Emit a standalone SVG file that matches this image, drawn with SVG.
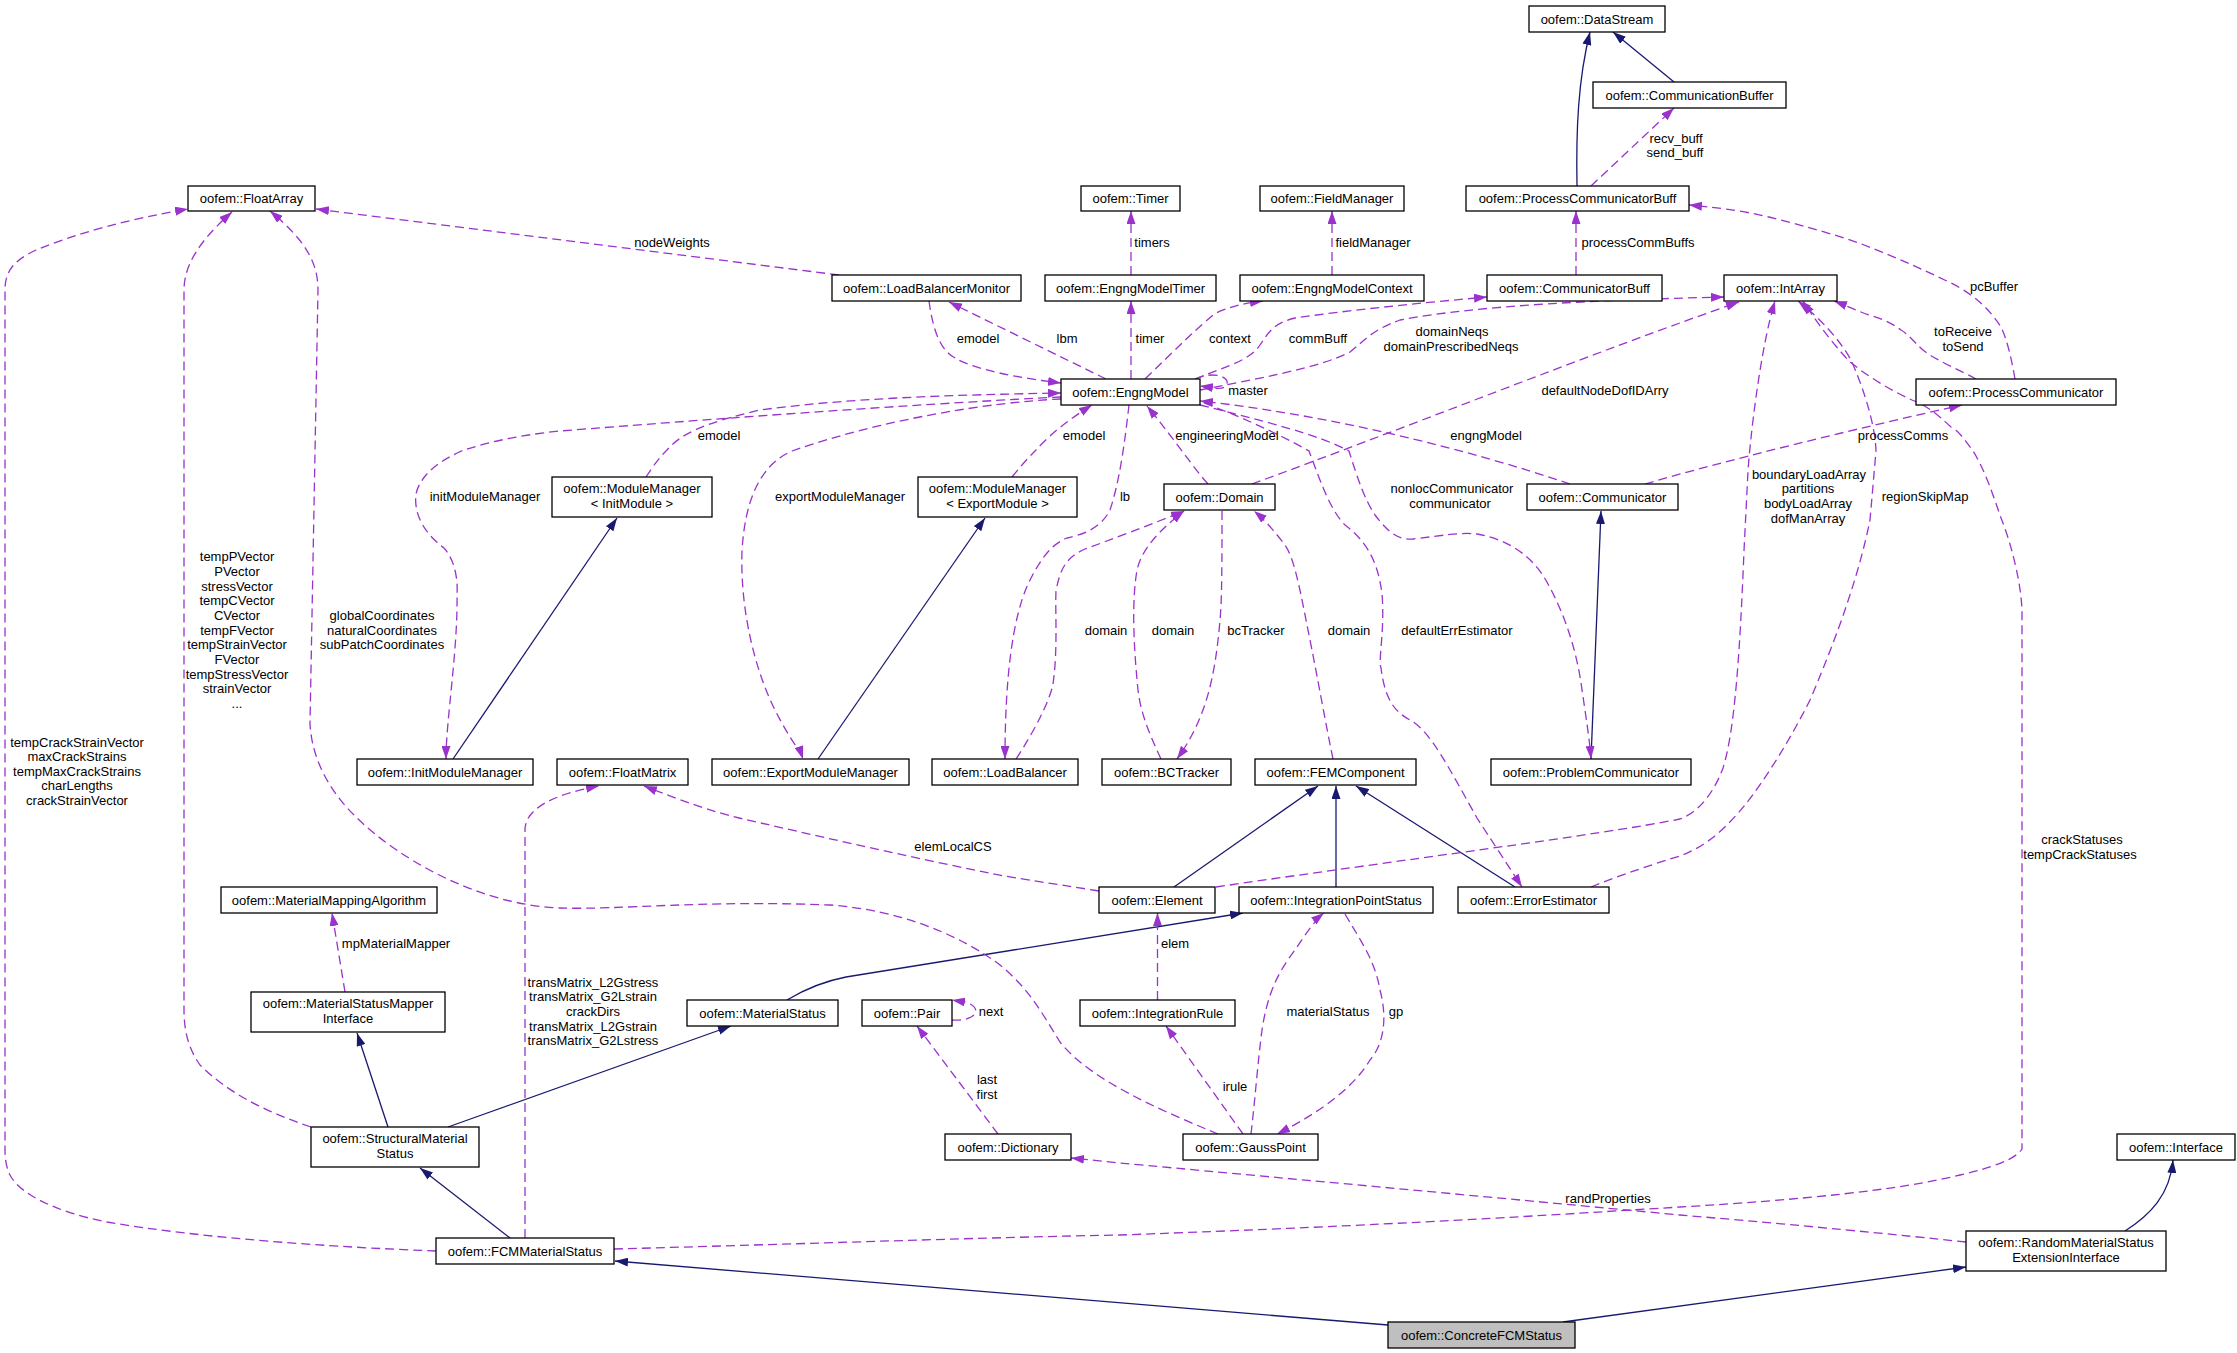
<svg xmlns="http://www.w3.org/2000/svg" width="2237" height="1353" viewBox="0 0 2237 1353">
<style>
.n rect{fill:#fff;stroke:#000;stroke-width:1.3}
.n text,.l text{font-family:"Liberation Sans",Arial,sans-serif;font-size:13px;text-anchor:middle;fill:#000}
.d{fill:none;stroke:#9a32cd;stroke-width:1.3;stroke-dasharray:9,5;marker-end:url(#ap)}
.s{fill:none;stroke:#191970;stroke-width:1.3;marker-end:url(#an)}
</style>
<defs>
<marker id="ap" viewBox="0 0 13 9" refX="13" refY="4.5" markerWidth="13" markerHeight="9" markerUnits="userSpaceOnUse" orient="auto"><path d="M0,0L13,4.5L0,9z" fill="#9a32cd"/></marker>
<marker id="an" viewBox="0 0 13 9" refX="13" refY="4.5" markerWidth="13" markerHeight="9" markerUnits="userSpaceOnUse" orient="auto"><path d="M0,0L13,4.5L0,9z" fill="#191970"/></marker>
</defs>
<rect width="2237" height="1353" fill="#fff"/>
<g id="connectors">
<path class="s" d="M1577,186 C1576,130 1578,80 1590,32"/>
<path class="s" d="M1674,82 L1613,32"/>
<path class="s" d="M453,759 L617,518"/>
<path class="s" d="M818,759 L985,518"/>
<path class="s" d="M1591,759 L1601,511"/>
<path class="s" d="M1174,887 L1318,786"/>
<path class="s" d="M1336,887 L1336,786"/>
<path class="s" d="M1515,887 L1356,786"/>
<path class="s" d="M787,1000 Q815,983 846,977 L1243,913"/>
<path class="s" d="M448,1127 L731,1026"/>
<path class="s" d="M388,1127 L357,1033"/>
<path class="s" d="M510,1238 L420,1168"/>
<path class="s" d="M1388,1325 L615,1261"/>
<path class="s" d="M1563,1322 L1966,1267"/>
<path class="s" d="M2125,1231 C2150,1215 2170,1195 2173,1160"/>

<path class="d" d="M839,275 L316,209"/>
<path class="d" d="M436,1251 C330,1247 200,1238 107,1222 C60,1213 20,1195 10,1175 Q5,1165 5,1150 L5,290 C5,270 15,260 36,250 C80,232 130,219 188,209"/>
<path class="d" d="M311,1127 C260,1110 225,1090 200,1065 C188,1048 184,1030 184,1010 L184,290 C184,265 200,240 232,212"/>
<path class="d" d="M1218,1134 C1160,1110 1090,1080 1060,1042 C1040,1010 1030,990 1000,965 C960,935 900,910 830,905 C700,900 620,910 560,908 C480,905 400,860 357,818 C330,792 312,760 310,724 L318,290 C318,262 305,240 270,211"/>
<path class="d" d="M1106,379 L949,302"/>
<path class="d" d="M929,301 C933,330 940,350 955,358 C975,370 1020,378 1061,383"/>
<path class="d" d="M1131,275 L1131,211"/>
<path class="d" d="M1131,379 L1131,301"/>
<path class="d" d="M1332,275 L1332,211"/>
<path class="d" d="M1576,275 L1576,211"/>
<path class="d" d="M1591,186 L1674,108"/>
<path class="d" d="M1145,379 C1175,350 1200,325 1216,313 C1232,306 1245,303 1263,301"/>
<path class="d" d="M1195,379 C1230,365 1250,360 1260,345 C1270,330 1275,323 1295,318 C1350,310 1420,303 1487,297"/>
<path class="d" d="M1200,390 C1250,380 1320,368 1350,352 C1365,340 1372,330 1400,320 C1480,305 1600,300 1724,297"/>
<path class="d" d="M1252,484 C1400,430 1600,350 1739,302"/>
<path class="d" d="M1208,484 C1195,470 1175,440 1147,406"/>
<path class="d" d="M1570,484 C1470,450 1330,415 1200,401"/>
<path class="d" d="M1645,484 C1720,462 1850,430 1962,405"/>
<path class="d" d="M646,477 C652,468 657,460 667,450 C680,435 700,424 760,410 C850,398 950,395 1061,393"/>
<path class="d" d="M1012,477 C1020,467 1028,458 1035,451 C1045,440 1060,425 1092,405"/>
<path class="d" d="M1061,397 C900,405 700,420 560,431 C510,436 480,445 464,450 C440,460 420,475 416,494 C414,510 420,530 444,548 C455,560 458,580 457,594 C458,650 446,720 446,759"/>
<path class="d" d="M1061,399 C990,402 880,420 792,451 C760,465 745,500 742,551 C740,610 755,670 775,710 C790,740 800,750 803,759"/>
<path class="d" d="M1129,405 C1125,440 1120,480 1110,510 C1100,530 1080,535 1067,538 C1050,545 1040,560 1028,584 C1012,620 1005,680 1005,759"/>
<path class="d" d="M1016,759 C1035,730 1050,700 1053,684 C1058,650 1055,610 1056,591 C1060,570 1065,558 1085,549 C1110,540 1150,525 1184,511"/>
<path class="d" d="M1161,759 C1150,735 1141,715 1138,690 C1133,640 1132,600 1137,570 C1142,548 1160,530 1184,511"/>
<path class="d" d="M1222,511 C1222,560 1222,600 1220,620 C1215,680 1205,720 1177,759"/>
<path class="d" d="M1333,759 C1325,720 1318,680 1310,640 C1300,590 1295,560 1285,545 C1275,532 1265,520 1254,511"/>
<path class="d" d="M1204,403 C1250,420 1290,440 1309,451 C1320,480 1330,510 1345,525 C1365,540 1378,560 1382,594 C1385,630 1378,660 1381,668 C1385,700 1395,712 1410,720 C1430,730 1450,770 1477,818 L1522,887"/>
<path class="d" d="M1200,405 C1260,420 1320,435 1349,451 C1358,480 1365,500 1375,515 C1390,535 1400,540 1413,539 C1440,536 1460,532 1477,534 C1500,538 1530,550 1548,584 C1565,615 1577,651 1582,690 C1588,730 1590,745 1591,759"/>
<path class="d" d="M1216,887 C1400,860 1600,835 1680,819 C1700,812 1715,790 1723,768 C1735,730 1740,650 1744,551 L1748,471 C1750,440 1760,350 1775,301"/>
<path class="d" d="M1591,887 C1620,875 1660,862 1680,856 C1710,845 1730,823 1745,805 C1765,780 1790,740 1810,700 C1840,630 1860,570 1870,520 L1876,451 C1875,420 1860,380 1851,360 C1840,340 1820,318 1798,301"/>
<path class="d" d="M614,1249 C800,1244 1000,1237 1120,1235 C1400,1225 1550,1215 1680,1207 C1800,1200 1900,1190 1960,1175 C1990,1168 2015,1160 2022,1149 L2022,611 C2021,580 2010,540 2001,518 C1993,495 1985,470 1973,451 C1965,440 1958,430 1951,427 C1935,412 1925,405 1912,400 C1890,390 1865,375 1848,360 C1830,340 1815,320 1803,301"/>
<path class="d" d="M1966,1242 C1900,1235 1800,1225 1680,1215 C1500,1198 1250,1175 1120,1163 L1071,1158"/>
<path class="d" d="M525,1238 L525,830 C525,810 550,795 599,786"/>
<path class="d" d="M1099,891 C1050,883 1000,876 989,873 C900,855 800,832 739,818 C710,811 680,800 644,786"/>
<path class="d" d="M1157.5,1000 L1157.5,913"/>
<path class="d" d="M1243,1134 L1166,1026"/>
<path class="d" d="M1251,1134 C1255,1100 1258,1060 1262,1030 C1268,990 1280,970 1295,950 C1305,935 1315,920 1324,913"/>
<path class="d" d="M1345,914 C1360,940 1375,960 1380,990 C1388,1020 1383,1045 1370,1060 C1355,1085 1325,1110 1277,1134"/>
<path class="d" d="M345,992 L332,913"/>
<path class="d" d="M952,1020 C975,1022 985,1008 965,1002 L952,1000"/>
<path class="d" d="M998,1134 L917,1026"/>
<path class="d" d="M2015,379 C2010,350 2005,335 2001,327 C1990,310 1975,295 1951,283 C1920,268 1890,255 1859,243 C1830,233 1800,225 1769,217 C1740,210 1710,207 1689,205"/>
<path class="d" d="M1976,379 C1960,370 1935,360 1923,350 C1912,340 1908,334 1901,330 C1890,322 1880,318 1869,315 C1855,310 1845,305 1834,301"/>
<path class="d" d="M1195,379 C1215,370 1232,378 1226,386 C1222,390 1215,388 1200,386"/>
</g>
<g id="labels" class="l">
<text x="1676" y="142.5">recv_buff</text><text x="1675" y="157">send_buff</text>
<text x="672" y="247">nodeWeights</text>
<text x="1152" y="247">timers</text>
<text x="1373" y="247">fieldManager</text>
<text x="1638" y="247">processCommBuffs</text>
<text x="1994" y="290.5">pcBuffer</text>
<text x="978" y="343">emodel</text>
<text x="1067" y="343">lbm</text>
<text x="1150" y="343">timer</text>
<text x="1230" y="343">context</text>
<text x="1318" y="343">commBuff</text>
<text x="1452" y="336">domainNeqs</text><text x="1451" y="351">domainPrescribedNeqs</text>
<text x="1963" y="336">toReceive</text><text x="1963" y="351">toSend</text>
<text x="1248" y="395">master</text>
<text x="1605" y="395">defaultNodeDofIDArry</text>
<text x="719" y="440">emodel</text>
<text x="1084" y="440">emodel</text>
<text x="1227" y="440">engineeringModel</text>
<text x="1486" y="440">engngModel</text>
<text x="1903" y="440">processComms</text>
<text x="485" y="501">initModuleManager</text>
<text x="840" y="501">exportModuleManager</text>
<text x="1125" y="501">lb</text>
<text x="1452" y="493">nonlocCommunicator</text><text x="1450" y="508">communicator</text>
<text x="1809" y="479">boundaryLoadArray</text><text x="1808" y="493">partitions</text><text x="1808" y="508">bodyLoadArray</text><text x="1808" y="523">dofManArray</text>
<text x="1925" y="501">regionSkipMap</text>
<text x="237" y="561">tempPVector</text><text x="237" y="576">PVector</text><text x="237" y="591">stressVector</text><text x="237" y="605">tempCVector</text><text x="237" y="620">CVector</text><text x="237" y="635">tempFVector</text><text x="237" y="649">tempStrainVector</text><text x="237" y="664">FVector</text><text x="237" y="679">tempStressVector</text><text x="237" y="693">strainVector</text><text x="237" y="708">...</text>
<text x="382" y="620">globalCoordinates</text><text x="382" y="635">naturalCoordinates</text><text x="382" y="649">subPatchCoordinates</text>
<text x="1106" y="635">domain</text>
<text x="1173" y="635">domain</text>
<text x="1256" y="635">bcTracker</text>
<text x="1349" y="635">domain</text>
<text x="1457" y="635">defaultErrEstimator</text>
<text x="77" y="747">tempCrackStrainVector</text><text x="77" y="761">maxCrackStrains</text><text x="77" y="776">tempMaxCrackStrains</text><text x="77" y="790">charLengths</text><text x="77" y="805">crackStrainVector</text>
<text x="2082" y="844">crackStatuses</text><text x="2080" y="859">tempCrackStatuses</text>
<text x="953" y="851">elemLocalCS</text>
<text x="396" y="948">mpMaterialMapper</text>
<text x="1175" y="948">elem</text>
<text x="593" y="987">transMatrix_L2Gstress</text><text x="593" y="1001">transMatrix_G2Lstrain</text><text x="593" y="1016">crackDirs</text><text x="593" y="1031">transMatrix_L2Gstrain</text><text x="593" y="1045">transMatrix_G2Lstress</text>
<text x="991" y="1016">next</text>
<text x="1328" y="1016">materialStatus</text>
<text x="1396" y="1016">gp</text>
<text x="987" y="1084">last</text><text x="987" y="1099">first</text>
<text x="1235" y="1091">irule</text>
<text x="1608" y="1203">randProperties</text>
</g>
<g id="n_DataStream" class="n"><rect x="1529" y="6" width="136" height="26"/><text x="1597" y="23.5">oofem::DataStream</text></g>
<g id="n_CommunicationBuffer" class="n"><rect x="1593" y="82" width="193" height="26"/><text x="1689.5" y="99.5">oofem::CommunicationBuffer</text></g>
<g id="n_FloatArray" class="n"><rect x="188" y="186" width="127" height="25"/><text x="251.5" y="203">oofem::FloatArray</text></g>
<g id="n_Timer" class="n"><rect x="1081" y="186" width="99" height="25"/><text x="1130.5" y="203">oofem::Timer</text></g>
<g id="n_FieldManager" class="n"><rect x="1260" y="186" width="144" height="25"/><text x="1332" y="203">oofem::FieldManager</text></g>
<g id="n_ProcessCommunicatorBuff" class="n"><rect x="1466" y="186" width="223" height="25"/><text x="1577.5" y="203">oofem::ProcessCommunicatorBuff</text></g>
<g id="n_LoadBalancerMonitor" class="n"><rect x="832" y="275" width="189" height="26"/><text x="926.5" y="292.5">oofem::LoadBalancerMonitor</text></g>
<g id="n_EngngModelTimer" class="n"><rect x="1045" y="275" width="171" height="26"/><text x="1130.5" y="292.5">oofem::EngngModelTimer</text></g>
<g id="n_EngngModelContext" class="n"><rect x="1240" y="275" width="184" height="26"/><text x="1332" y="292.5">oofem::EngngModelContext</text></g>
<g id="n_CommunicatorBuff" class="n"><rect x="1487" y="275" width="175" height="26"/><text x="1574.5" y="292.5">oofem::CommunicatorBuff</text></g>
<g id="n_IntArray" class="n"><rect x="1724" y="275" width="113" height="26"/><text x="1780.5" y="292.5">oofem::IntArray</text></g>
<g id="n_EngngModel" class="n"><rect x="1061" y="379" width="139" height="26"/><text x="1130.5" y="396.5">oofem::EngngModel</text></g>
<g id="n_ProcessCommunicator" class="n"><rect x="1916" y="379" width="200" height="26"/><text x="2016" y="396.5">oofem::ProcessCommunicator</text></g>
<g id="n_ModuleManagerInit" class="n"><rect x="552" y="477" width="160" height="40"/><text x="632" y="493">oofem::ModuleManager</text><text x="632" y="508">&lt; InitModule &gt;</text></g>
<g id="n_ModuleManagerExport" class="n"><rect x="918" y="477" width="159" height="40"/><text x="997.5" y="493">oofem::ModuleManager</text><text x="997.5" y="508">&lt; ExportModule &gt;</text></g>
<g id="n_Domain" class="n"><rect x="1164" y="484" width="111" height="26"/><text x="1219.5" y="501.5">oofem::Domain</text></g>
<g id="n_Communicator" class="n"><rect x="1527" y="484" width="151" height="26"/><text x="1602.5" y="501.5">oofem::Communicator</text></g>
<g id="n_InitModuleManager" class="n"><rect x="357" y="759" width="176" height="26"/><text x="445" y="776.5">oofem::InitModuleManager</text></g>
<g id="n_FloatMatrix" class="n"><rect x="557" y="759" width="131" height="26"/><text x="622.5" y="776.5">oofem::FloatMatrix</text></g>
<g id="n_ExportModuleManager" class="n"><rect x="712" y="759" width="197" height="26"/><text x="810.5" y="776.5">oofem::ExportModuleManager</text></g>
<g id="n_LoadBalancer" class="n"><rect x="932" y="759" width="146" height="26"/><text x="1005" y="776.5">oofem::LoadBalancer</text></g>
<g id="n_BCTracker" class="n"><rect x="1102" y="759" width="129" height="26"/><text x="1166.5" y="776.5">oofem::BCTracker</text></g>
<g id="n_FEMComponent" class="n"><rect x="1255" y="759" width="161" height="26"/><text x="1335.5" y="776.5">oofem::FEMComponent</text></g>
<g id="n_ProblemCommunicator" class="n"><rect x="1491" y="759" width="200" height="26"/><text x="1591" y="776.5">oofem::ProblemCommunicator</text></g>
<g id="n_MaterialMappingAlgorithm" class="n"><rect x="221" y="887" width="216" height="26"/><text x="329" y="904.5">oofem::MaterialMappingAlgorithm</text></g>
<g id="n_Element" class="n"><rect x="1099" y="887" width="116" height="26"/><text x="1157" y="904.5">oofem::Element</text></g>
<g id="n_IntegrationPointStatus" class="n"><rect x="1239" y="887" width="194" height="26"/><text x="1336" y="904.5">oofem::IntegrationPointStatus</text></g>
<g id="n_ErrorEstimator" class="n"><rect x="1458" y="887" width="151" height="26"/><text x="1533.5" y="904.5">oofem::ErrorEstimator</text></g>
<g id="n_MaterialStatusMapperInterface" class="n"><rect x="251" y="992" width="194" height="40"/><text x="348" y="1008">oofem::MaterialStatusMapper</text><text x="348" y="1023">Interface</text></g>
<g id="n_MaterialStatus" class="n"><rect x="687" y="1000" width="151" height="26"/><text x="762.5" y="1017.5">oofem::MaterialStatus</text></g>
<g id="n_Pair" class="n"><rect x="862" y="1000" width="90" height="26"/><text x="907" y="1017.5">oofem::Pair</text></g>
<g id="n_IntegrationRule" class="n"><rect x="1080" y="1000" width="155" height="26"/><text x="1157.5" y="1017.5">oofem::IntegrationRule</text></g>
<g id="n_Dictionary" class="n"><rect x="945" y="1134" width="126" height="26"/><text x="1008" y="1151.5">oofem::Dictionary</text></g>
<g id="n_GaussPoint" class="n"><rect x="1183" y="1134" width="135" height="26"/><text x="1250.5" y="1151.5">oofem::GaussPoint</text></g>
<g id="n_StructuralMaterialStatus" class="n"><rect x="311" y="1127" width="168" height="40"/><text x="395" y="1143">oofem::StructuralMaterial</text><text x="395" y="1158">Status</text></g>
<g id="n_FCMMaterialStatus" class="n"><rect x="436" y="1238" width="178" height="26"/><text x="525" y="1255.5">oofem::FCMMaterialStatus</text></g>
<g id="n_Interface" class="n"><rect x="2117" y="1134" width="118" height="26"/><text x="2176" y="1151.5">oofem::Interface</text></g>
<g id="n_RandomMaterialStatusExtensionInterface" class="n"><rect x="1966" y="1231" width="200" height="40"/><text x="2066" y="1247">oofem::RandomMaterialStatus</text><text x="2066" y="1262">ExtensionInterface</text></g>
<g id="n_ConcreteFCMStatus" class="n"><rect x="1388" y="1322" width="187" height="26" style="fill:#bfbfbf"/><text x="1481.5" y="1339.5">oofem::ConcreteFCMStatus</text></g>
</svg>
